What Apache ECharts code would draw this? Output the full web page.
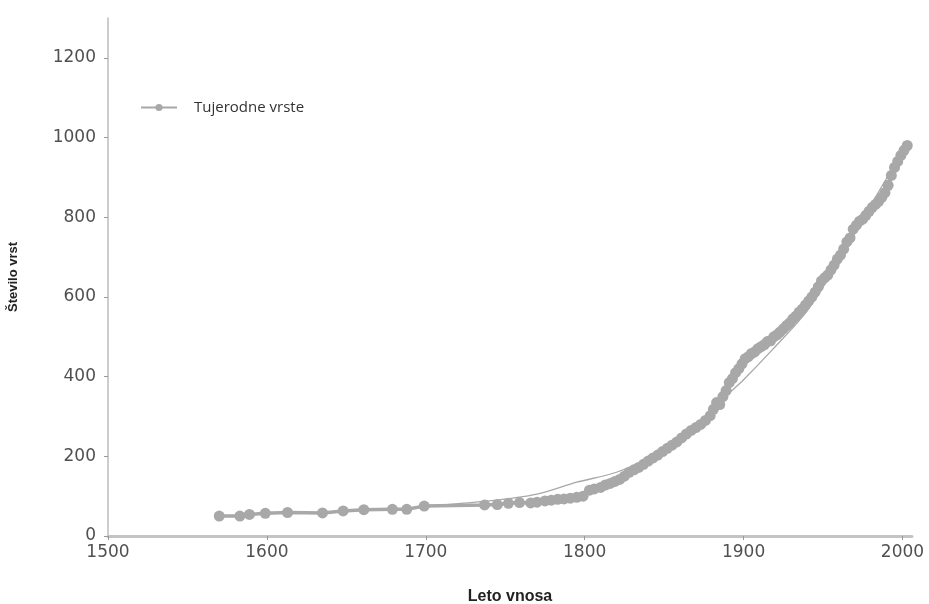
<!DOCTYPE html>
<html>
<head>
<meta charset="utf-8">
<script src="https://cdn.jsdelivr.net/npm/echarts@6/dist/echarts.min.js"></script>
<style>
  html, body { margin: 0; padding: 0; background: #fff; }
  #echart { width: 929px; height: 604px; }
</style>
</head>
<body>
<div id="echart"></div>
<script>
// leta vnosa in kumulativno število vrst (odčitano s slike)
var years = [1570, 1583, 1589, 1599, 1613, 1635, 1648, 1661, 1679, 1688, 1699,
  1737, 1745, 1752, 1759, 1766, 1770, 1775, 1779, 1783, 1787, 1791, 1795, 1799,
  1803, 1806, 1810, 1813, 1816, 1819, 1822, 1825, 1828, 1831, 1834, 1837, 1840,
  1843, 1846, 1849, 1852, 1855, 1858, 1861, 1864, 1867, 1870, 1873, 1876, 1879,
  1881, 1883, 1885, 1887, 1889, 1891, 1893, 1895, 1897, 1899, 1901, 1903, 1905,
  1907, 1909, 1911, 1913, 1915, 1917, 1919, 1921, 1923, 1925, 1927, 1929, 1931,
  1933, 1935, 1937, 1939, 1941, 1943, 1945, 1947, 1949, 1951, 1953, 1955, 1957,
  1959, 1961, 1963, 1965, 1967, 1969, 1971, 1973, 1975, 1977, 1979, 1981, 1983,
  1985, 1987, 1989, 1991, 1993, 1995, 1997, 1999, 2001, 2003];
var species = [50, 50, 54, 57, 59, 58, 63, 66, 67, 67, 75,
  78, 79, 82, 84, 83, 85, 88, 90, 92, 93, 95, 97, 100,
  115, 118, 122, 128, 132, 137, 142, 150, 160, 166, 172, 180, 188,
  196, 203, 212, 220, 228, 236, 246, 256, 265, 272, 280, 290, 302,
  318, 335, 330, 350, 365, 385, 395, 410, 420, 432, 445, 450, 458,
  462, 470, 475, 480, 488, 490, 500, 505, 512, 520, 528, 535, 545,
  552, 562, 570, 580, 590, 600, 612, 625, 640, 648, 655, 668, 680,
  695, 705, 720, 738, 748, 770, 780, 790, 795, 805, 815, 825, 832,
  840, 850, 862, 880, 905, 925, 940, 955, 968, 980];

// tanka krivulja (trend)
var trendYears = [1700, 1740, 1770, 1795, 1820, 1845, 1870, 1890, 1900, 1918, 1940, 1960, 1980, 2003];
var trendValues = [75, 88, 105, 135, 160, 205, 275, 355, 392, 467, 565, 690, 830, 985];

var yTicks = [0, 200, 400, 600, 800, 1000, 1200];
var xTicks = [1500, 1600, 1700, 1800, 1900, 2000];

var seriesName = 'Tujerodne vrste';

function pairs(xs, ys) {
    var out = [];
    for (var i = 0; i < xs.length; i++) {
        out.push([xs[i], ys[i]]);
    }
    return out;
}

var dom = document.getElementById("echart");
var myChart = echarts.init(dom, null, { renderer: 'canvas' });

var grey = '#a8a8a8';

var option = {
    animation: false,
    backgroundColor: '#ffffff',
    textStyle: { fontFamily: 'DejaVu Sans, sans-serif' },
    grid: { left: 108, right: 17, top: 18, bottom: 68, outerBoundsMode: 'none' },
    legend: {
        data: [seriesName],
        left: 140,
        top: 100,
        padding: 0,
        itemWidth: 36,
        itemHeight: 9,
        textStyle: {
            fontFamily: 'Open Sans, sans-serif',
            fontSize: 15,
            color: '#333',
            padding: [0, 0, 0, 12]
        }
    },
    xAxis: {
        type: 'value',
        min: 1500,
        max: 2006,
        interval: 100,
        name: 'Leto vnosa',
        nameLocation: 'middle',
        nameGap: 53,
        nameTextStyle: { fontFamily: 'Liberation Sans, Arial, sans-serif', fontSize: 16, fontWeight: 'bold', color: '#222' },
        axisLine: { show: true, lineStyle: { color: '#c4c4c4', width: 3 } },
        axisTick: { show: true, length: 4, customValues: xTicks, lineStyle: { color: '#999' } },
        axisLabel: { customValues: xTicks, fontSize: 17, color: '#505050', margin: 8,
            formatter: function (v) { return String(v); } },
        splitLine: { show: false }
    },
    yAxis: {
        type: 'value',
        min: 0,
        max: 1300,
        interval: 200,
        name: 'Število vrst',
        nameLocation: 'middle',
        nameRotate: 90,
        nameGap: 88,
        nameTextStyle: { fontFamily: 'Liberation Sans, Arial, sans-serif', fontSize: 13, fontWeight: 'bold', color: '#222' },
        axisLine: { show: true, lineStyle: { color: '#bdbdbd', width: 1.5 } },
        axisTick: { show: true, length: 4, customValues: yTicks, lineStyle: { color: '#999' } },
        axisLabel: { customValues: yTicks, fontSize: 17, color: '#505050', margin: 12,
            formatter: function (v) { return String(v); } },
        splitLine: { show: false }
    },
    series: [
        {
            name: 'trend',
            type: 'line',
            data: pairs(trendYears, trendValues),
            showSymbol: false,
            smooth: 0.3,
            lineStyle: { color: grey, width: 1.3 },
            z: 1
        },
        {
            name: seriesName,
            type: 'line',
            data: pairs(years, species),
            symbol: 'circle',
            symbolSize: 11,
            itemStyle: { color: grey },
            lineStyle: { color: grey, width: 3.5 },
            z: 2
        }
    ]
};

myChart.setOption(option);
</script>
</body>
</html>
